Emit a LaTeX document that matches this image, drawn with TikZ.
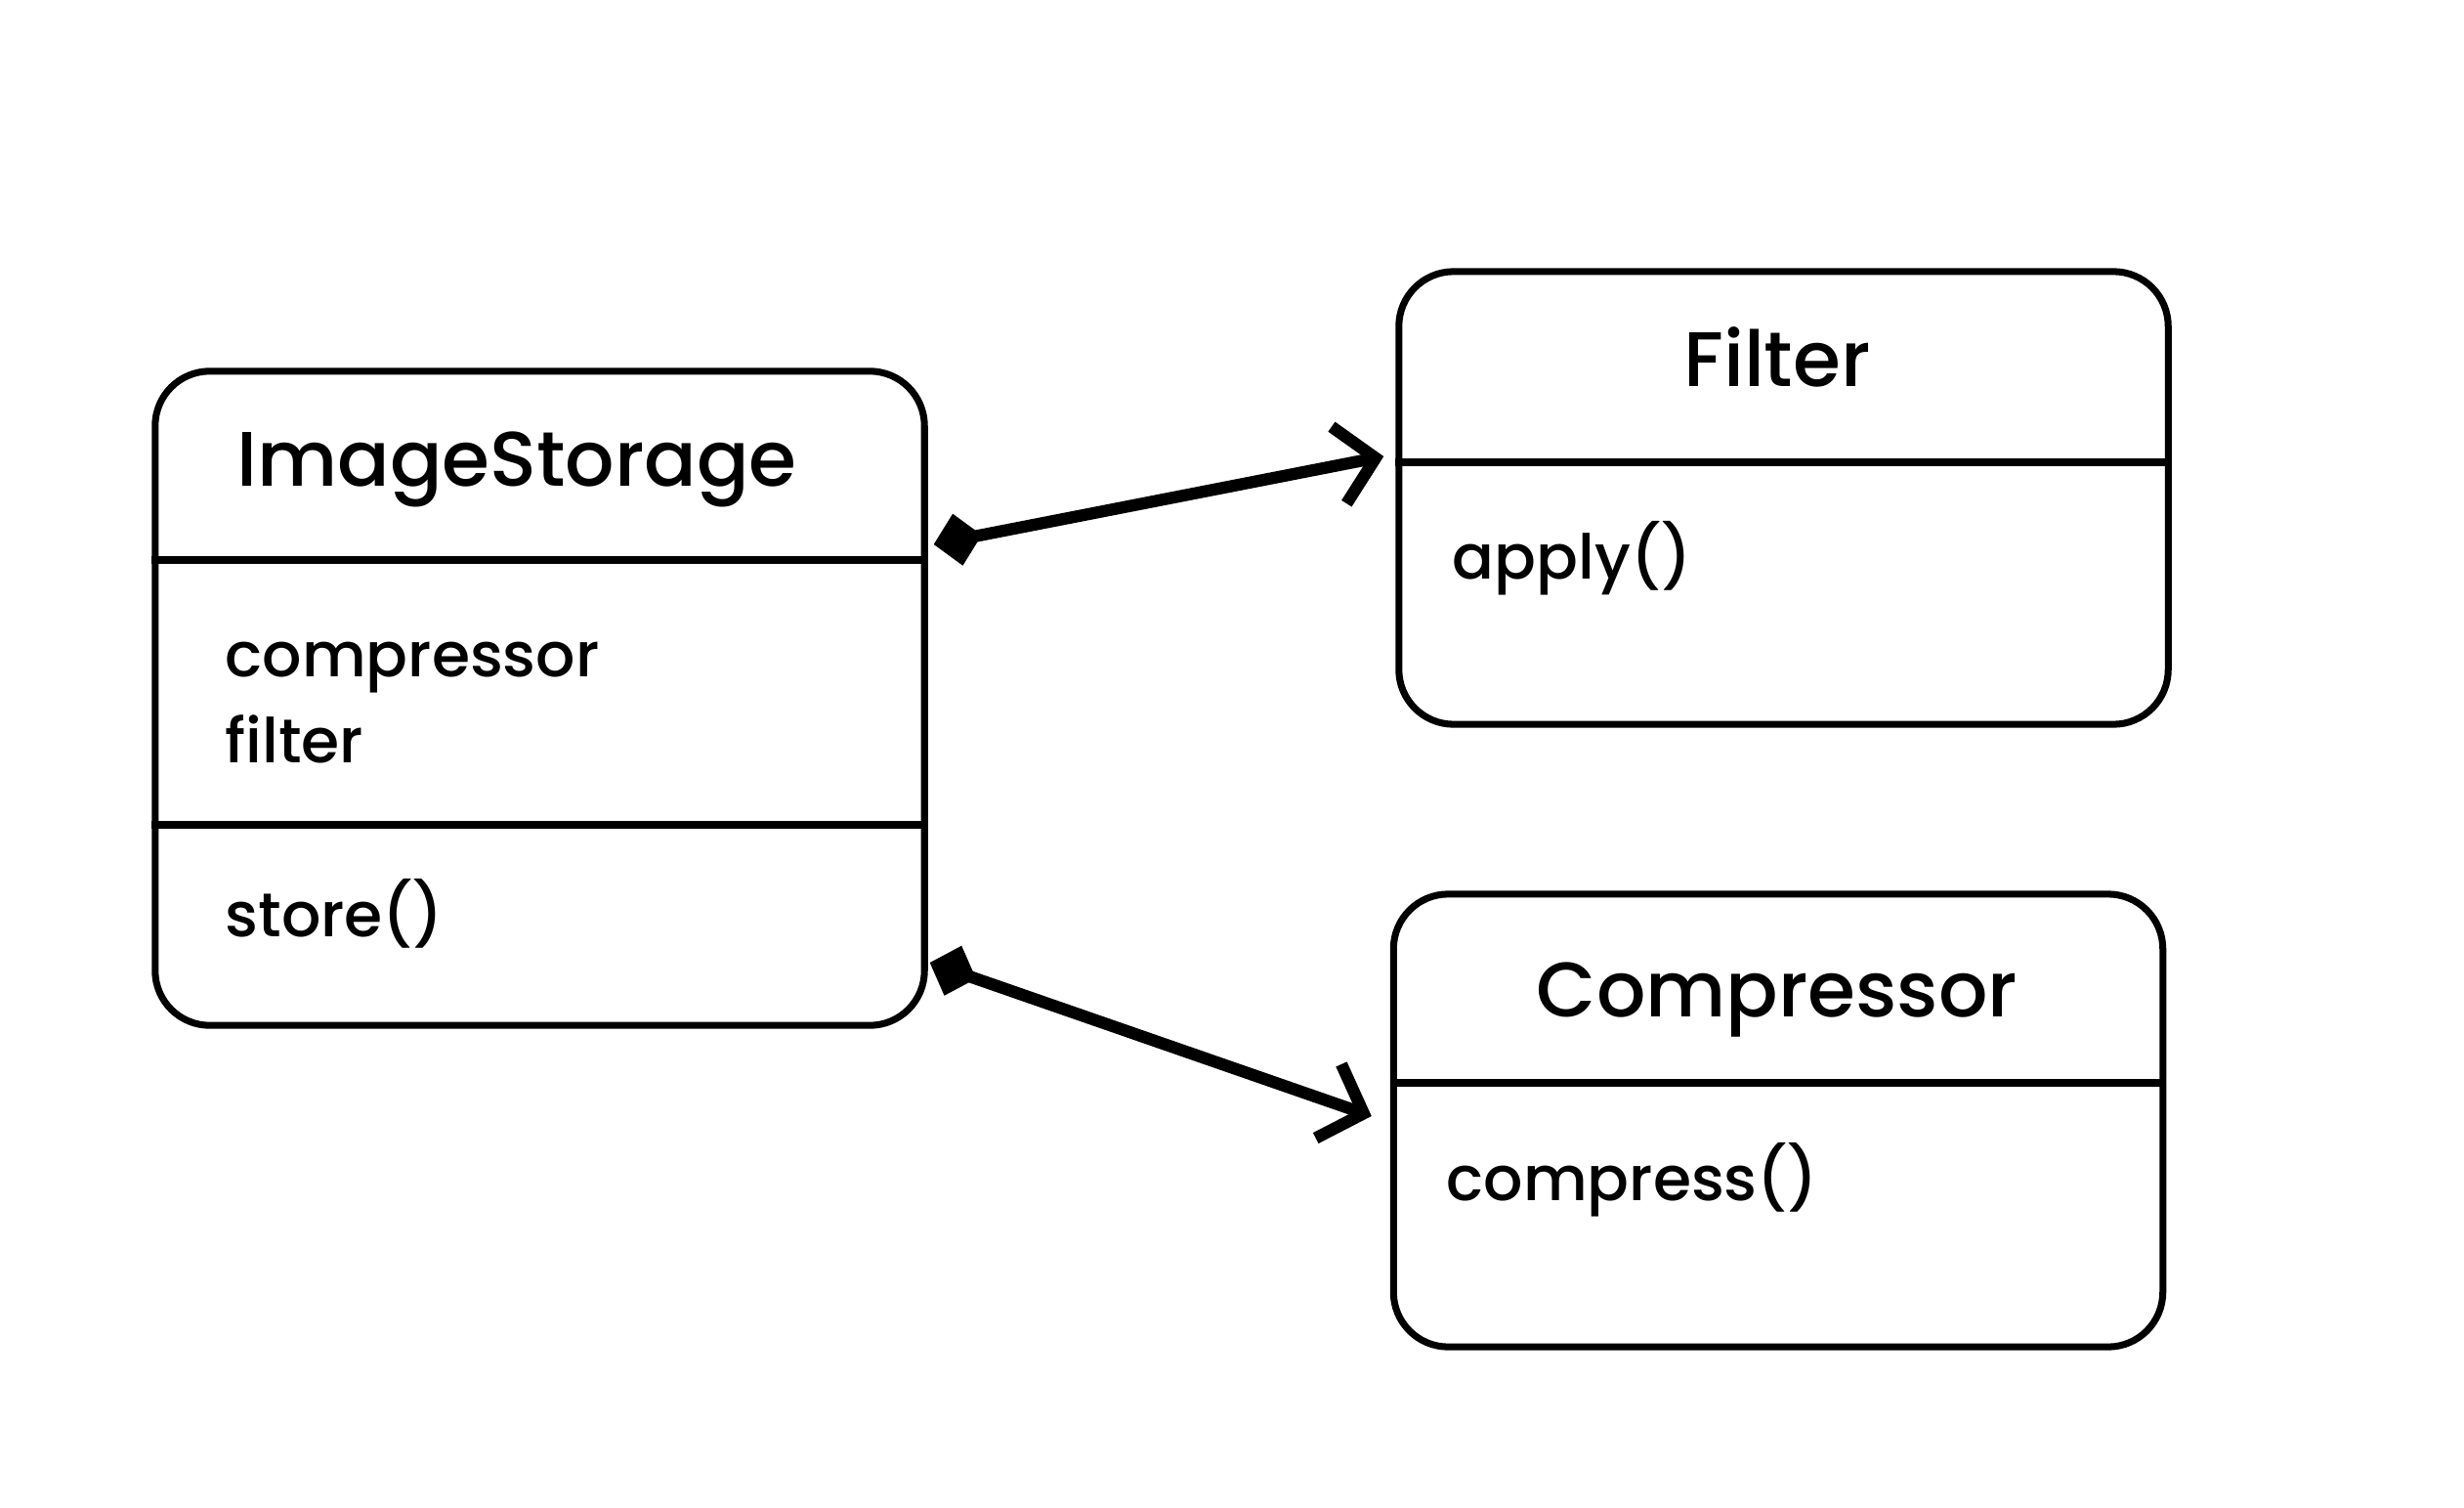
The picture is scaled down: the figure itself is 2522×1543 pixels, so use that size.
\documentclass[tikz,border=0pt]{standalone}
\usepackage{fontspec}
\setmainfont{Poppins Medium}
\usetikzlibrary{arrows.meta,positioning,calc}

\begin{document}
\begin{tikzpicture}[x=0.01cm,y=-0.01cm,
  umlbox/.style={draw,line width=2pt,rounded corners=5.6mm,inner sep=0pt,
                 minimum width=7.87cm,minimum height=4.63cm},
  cname/.style={font=\fontsize{22.5}{27}\selectfont,anchor=base,inner sep=0pt},
  member/.style={font=\fontsize{18}{22}\selectfont,anchor=base west,inner sep=0pt},
  sep/.style={line width=2pt},
  comp/.style={line width=3.5pt,
               {Diamond[length=5mm,width=5.4mm]}-{Straight Barb[length=3.8mm,width=8mm]}},
]
\useasboundingbox[fill=white] (0,0) rectangle (2522,1543);

% classes
\node[umlbox,minimum height=6.69cm] (store) at (552.5,714.5) {};
\node[umlbox] (filter) at (1825.5,509.5) {};
\node[umlbox] (compr) at (1820,1146.5) {};

% compartments
\draw[sep] (store.west |- 0,573) -- (store.east |- 0,573);
\draw[sep] (store.west |- 0,844) -- (store.east |- 0,844);
\draw[sep] (filter.west |- 0,473) -- (filter.east |- 0,473);
\draw[sep] (compr.west |- 0,1108) -- (compr.east |- 0,1108);

\node[cname] (storename) at (529,498) {ImageStorage};
\node[member] (attrcompr) at (230,692) {compressor};
\node[member] (attrfilter) at (230,780) {filter};
\node[member] (opstore) at (230,958) {store()};

\node[cname] (filtername) at (1819,396) {Filter};
\node[member] (opapply) at (1486,593) {apply()};

\node[cname] (comprname) at (1819,1040) {Compressor};
\node[member] (opcompress) at (1480,1228) {compress()};

% composition
\draw[comp] ($(store.east |- 0,557)+(6,0)$) -- ($(filter.west |- 0,467)+(-12,0)$);
\draw[comp] ($(store.east |- 0,985)+(2,0)$) -- ($(compr.west |- 0,1142)+(-19,0)$);
\end{tikzpicture}
\end{document}
